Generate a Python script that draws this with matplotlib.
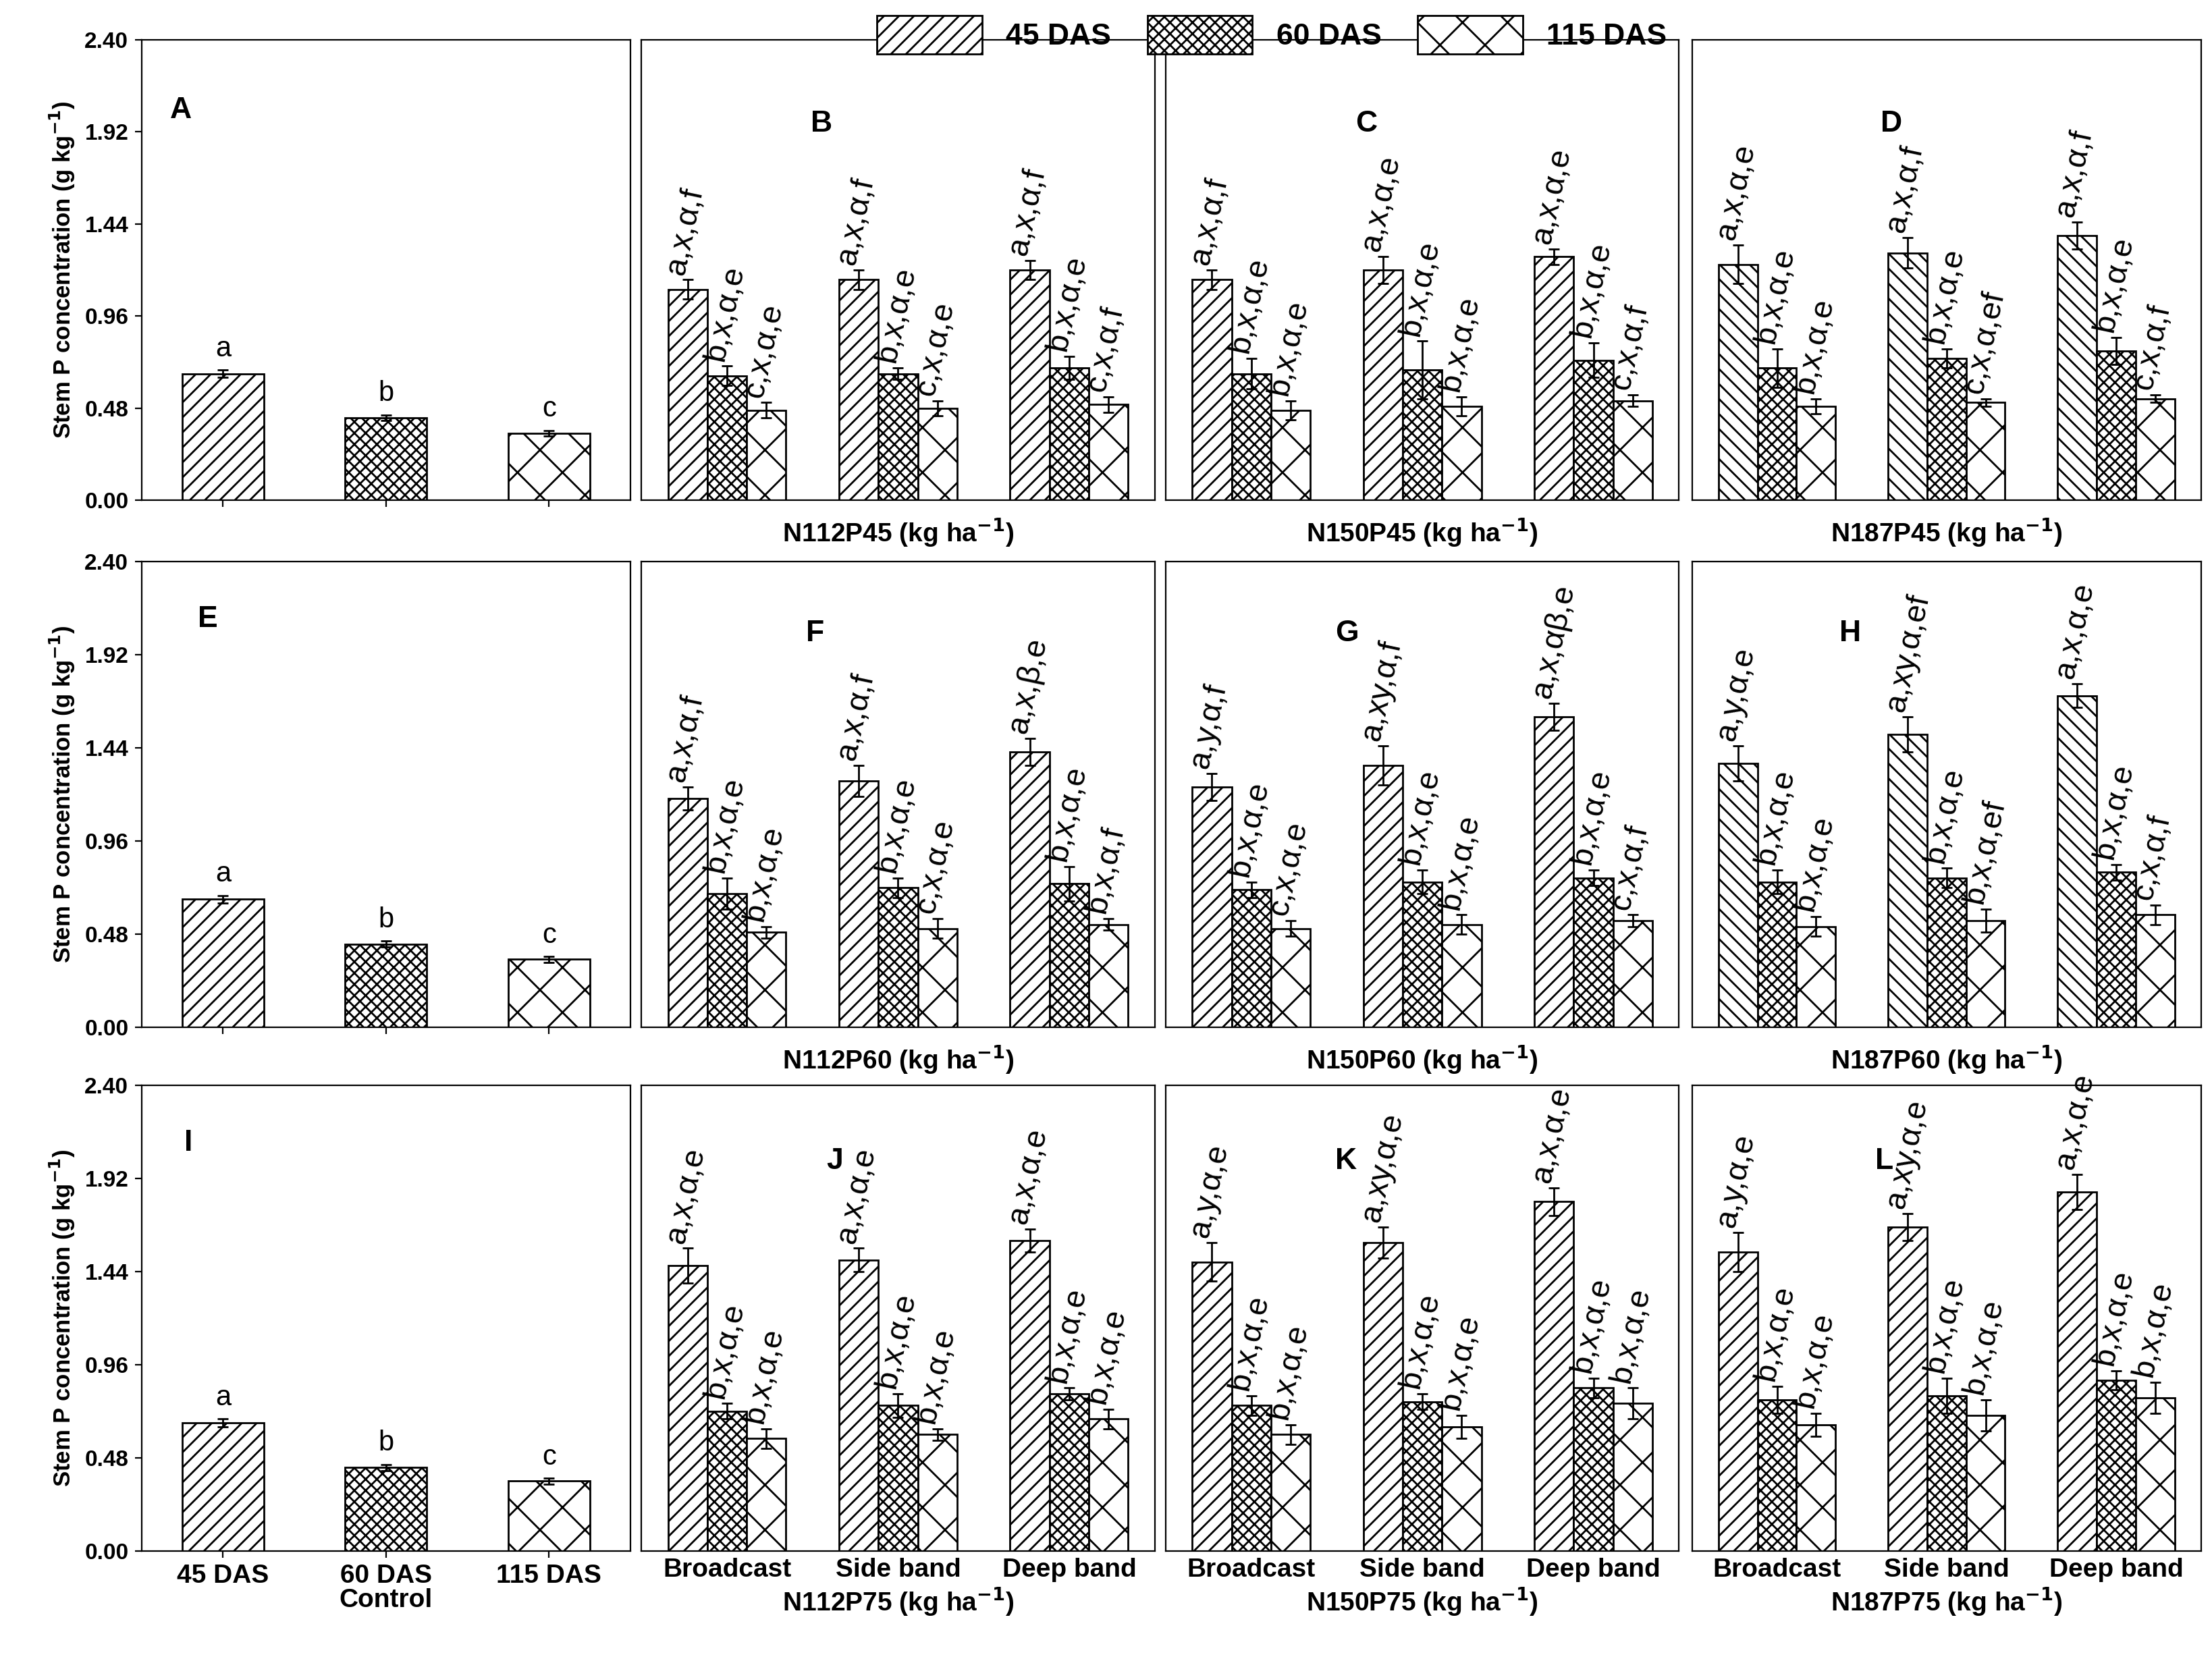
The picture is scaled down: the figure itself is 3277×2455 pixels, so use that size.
import matplotlib
matplotlib.use("Agg")
import matplotlib.pyplot as plt
from matplotlib.patches import Patch

plt.rcParams['font.family'] = 'Liberation Sans'
plt.rcParams['font.weight'] = 'bold'
plt.rcParams['hatch.linewidth'] = 1.0

stages = ['45 DAS', '60 DAS', '115 DAS']
methods = ['Broadcast', 'Side band', 'Deep band']
control_vals = [[0.66, 0.43, 0.35], [0.66, 0.43, 0.35], [0.66, 0.43, 0.36]]
control_err = [0.02, 0.015, 0.015]
control_lbl = ['a', 'b', 'c']
row_letters = ['A', 'E', 'I']
panel_letters = [['B', 'C', 'D'], ['F', 'G', 'H'], ['J', 'K', 'L']]
xlabels = [['N112P45', 'N150P45', 'N187P45'],
           ['N112P60', 'N150P60', 'N187P60'],
           ['N112P75', 'N150P75', 'N187P75']]

# values[row][panel][method] = (45, 60, 115 DAS)
values = [
    [[[1.10, 0.65, 0.47], [1.15, 0.66, 0.48], [1.20, 0.69, 0.50]],
     [[1.15, 0.66, 0.47], [1.20, 0.68, 0.49], [1.27, 0.73, 0.52]],
     [[1.23, 0.69, 0.49], [1.29, 0.74, 0.51], [1.38, 0.78, 0.53]]],
    [[[1.18, 0.69, 0.49], [1.27, 0.72, 0.51], [1.42, 0.74, 0.53]],
     [[1.24, 0.71, 0.51], [1.35, 0.75, 0.53], [1.60, 0.77, 0.55]],
     [[1.36, 0.75, 0.52], [1.51, 0.77, 0.55], [1.71, 0.80, 0.58]]],
    [[[1.47, 0.72, 0.58], [1.50, 0.75, 0.60], [1.60, 0.81, 0.68]],
     [[1.49, 0.75, 0.60], [1.59, 0.77, 0.64], [1.80, 0.84, 0.76]],
     [[1.54, 0.78, 0.65], [1.67, 0.80, 0.70], [1.85, 0.88, 0.79]]],
]
errors = [
    [[[0.05, 0.05, 0.04], [0.05, 0.03, 0.04], [0.05, 0.06, 0.04]],
     [[0.05, 0.08, 0.05], [0.07, 0.15, 0.05], [0.04, 0.09, 0.03]],
     [[0.10, 0.10, 0.04], [0.08, 0.05, 0.02], [0.07, 0.07, 0.02]]],
    [[[0.06, 0.08, 0.03], [0.08, 0.05, 0.05], [0.07, 0.09, 0.03]],
     [[0.07, 0.04, 0.04], [0.10, 0.06, 0.05], [0.07, 0.04, 0.03]],
     [[0.09, 0.06, 0.05], [0.09, 0.05, 0.06], [0.06, 0.04, 0.05]]],
    [[[0.09, 0.04, 0.05], [0.06, 0.06, 0.03], [0.06, 0.03, 0.05]],
     [[0.10, 0.05, 0.05], [0.08, 0.04, 0.06], [0.07, 0.05, 0.08]],
     [[0.10, 0.07, 0.06], [0.07, 0.09, 0.08], [0.09, 0.05, 0.08]]],
]
labels = [
    [[['a,x,α,f', 'b,x,α,e', 'c,x,α,e'], ['a,x,α,f', 'b,x,α,e', 'c,x,α,e'], ['a,x,α,f', 'b,x,α,e', 'c,x,α,f']],
     [['a,x,α,f', 'b,x,α,e', 'b,x,α,e'], ['a,x,α,e', 'b,x,α,e', 'b,x,α,e'], ['a,x,α,e', 'b,x,α,e', 'c,x,α,f']],
     [['a,x,α,e', 'b,x,α,e', 'b,x,α,e'], ['a,x,α,f', 'b,x,α,e', 'c,x,α,ef'], ['a,x,α,f', 'b,x,α,e', 'c,x,α,f']]],
    [[['a,x,α,f', 'b,x,α,e', 'b,x,α,e'], ['a,x,α,f', 'b,x,α,e', 'c,x,α,e'], ['a,x,β,e', 'b,x,α,e', 'b,x,α,f']],
     [['a,y,α,f', 'b,x,α,e', 'c,x,α,e'], ['a,xy,α,f', 'b,x,α,e', 'b,x,α,e'], ['a,x,αβ,e', 'b,x,α,e', 'c,x,α,f']],
     [['a,y,α,e', 'b,x,α,e', 'b,x,α,e'], ['a,xy,α,ef', 'b,x,α,e', 'b,x,α,ef'], ['a,x,α,e', 'b,x,α,e', 'c,x,α,f']]],
    [[['a,x,α,e', 'b,x,α,e', 'b,x,α,e']] * 3,
     [['a,y,α,e', 'b,x,α,e', 'b,x,α,e'], ['a,xy,α,e', 'b,x,α,e', 'b,x,α,e'], ['a,x,α,e', 'b,x,α,e', 'b,x,α,e']],
     [['a,y,α,e', 'b,x,α,e', 'b,x,α,e'], ['a,xy,α,e', 'b,x,α,e', 'b,x,α,e'], ['a,x,α,e', 'b,x,α,e', 'b,x,α,e']]],
]

hatches = ['///', 'xxxx', 'x']
yticks = [0.0, 0.48, 0.96, 1.44, 1.92, 2.40]

fig = plt.figure(figsize=(16.385, 12.275), dpi=200)
col_x = [(0.064, 0.221), (0.290, 0.232), (0.527, 0.232), (0.765, 0.230)]
row_y = [(0.698, 0.278), (0.380, 0.281), (0.064, 0.281)]
ctrl_letter_pos = [(0.058, 0.83), (0.115, 0.86), (0.087, 0.86)]
letter_pos = [[(0.33, 0.80), (0.37, 0.80), (0.37, 0.80)],
              [(0.32, 0.83), (0.33, 0.83), (0.29, 0.83)],
              [(0.36, 0.82), (0.33, 0.82), (0.36, 0.82)]]
fs = 17

for r in range(3):
    y0, h = row_y[r]
    # control panel
    ax = fig.add_axes([col_x[0][0], y0, col_x[0][1], h])
    for i in range(3):
        ax.bar(i + 1, control_vals[r][i], 0.5, color='white', edgecolor='black',
               hatch=hatches[i], linewidth=1.0, yerr=control_err[i], capsize=3,
               error_kw=dict(elinewidth=1, capthick=1))
        ax.text(i + 1, control_vals[r][i] + control_err[i] + 0.04, control_lbl[i],
                ha='center', va='bottom', fontsize=15, fontweight='normal')
    ax.set_xlim(0.5, 3.5)
    ax.set_ylim(0, 2.4)
    ax.set_yticks(yticks)
    ax.set_yticklabels(['%.2f' % v for v in yticks], fontsize=12)
    ax.set_ylabel('Stem P concentration (g kg$^{-1}$)', fontsize=12.5, fontweight='bold')
    ax.text(*ctrl_letter_pos[r], row_letters[r], transform=ax.transAxes,
            fontsize=16, fontweight='bold')
    ax.set_xticks([1, 2, 3])
    if r == 2:
        ax.set_xticklabels(stages, fontsize=14)
        ax.set_xlabel('Control', fontsize=14, fontweight='bold', labelpad=0)
    else:
        ax.set_xticklabels([])

    for p in range(3):
        ax = fig.add_axes([col_x[p + 1][0], y0, col_x[p + 1][1], h])
        w = 0.23
        for m in range(3):
            for s in range(3):
                x = m + 1 - w + s * w
                v = values[r][p][m][s]
                e = errors[r][p][m][s]
                hatch = hatches[s]
                if s == 0 and p == 2 and r < 2:
                    hatch = '\\\\\\'
                ax.bar(x, v, w, color='white', edgecolor='black', hatch=hatch,
                       linewidth=1.0, yerr=e, capsize=3,
                       error_kw=dict(elinewidth=1, capthick=1))
                ax.text(x - w * 0.3, v + e + 0.03, labels[r][p][m][s], rotation=78,
                        rotation_mode='anchor', ha='left', va='center',
                        fontsize=fs, fontweight='normal')
        ax.set_xlim(0.5, 3.5)
        ax.set_ylim(0, 2.4)
        ax.set_yticks(yticks)
        ax.set_yticklabels([])
        ax.tick_params(axis='y', length=0)
        ax.set_xticks([1, 2, 3])
        ax.tick_params(axis='x', length=0)
        if r == 2:
            ax.set_xticklabels(methods, fontsize=14)
        else:
            ax.set_xticklabels([])
        ax.set_xlabel(xlabels[r][p] + ' (kg ha$^{-1}$)', fontsize=14,
                      fontweight='bold', labelpad=2 if r == 2 else 5)
        ax.text(*letter_pos[r][p], panel_letters[r][p], transform=ax.transAxes,
                fontsize=16, fontweight='bold')

handles = [Patch(facecolor='white', edgecolor='black', hatch=hatches[i], label=stages[i])
           for i in range(3)]
fig.legend(handles=handles, loc='center', bbox_to_anchor=(0.575, 0.979), ncol=3,
           frameon=False, fontsize=16, handlelength=3.5, handleheight=1.6,
           columnspacing=1.2)

fig.savefig('out.png', dpi=200)
